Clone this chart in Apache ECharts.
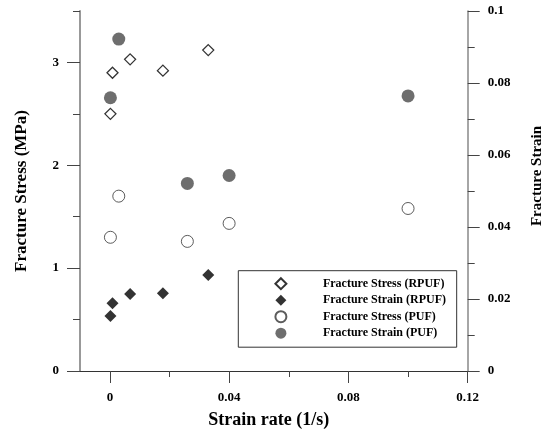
<!DOCTYPE html>
<html>
<head>
<meta charset="utf-8">
<style>
html,body{margin:0;padding:0;background:#fff;}
#chart{width:547px;height:432px;}
</style>
<script src="https://cdn.jsdelivr.net/npm/echarts@6/dist/echarts.min.js"></script>
</head>
<body>
<div id="chart"></div>
<script>
// ---- data ----
var seriesNames = ['Fracture Stress (RPUF)', 'Fracture Strain (RPUF)', 'Fracture Stress (PUF)', 'Fracture Strain (PUF)'];
var rpufRate   = [0.0002, 0.0009, 0.0068, 0.0178, 0.033];
var rpufStress = [2.50, 2.90, 3.03, 2.92, 3.12];
var rpufStrain = [0.0153, 0.0188, 0.0214, 0.0216, 0.0267];
var pufRate    = [0.0002, 0.003, 0.026, 0.04, 0.1];
var pufStress  = [1.30, 1.70, 1.26, 1.435, 1.58];
var pufStrain  = [0.0759, 0.0922, 0.0521, 0.0543, 0.0764];
var xTickLabels = ['0', '0.04', '0.08', '0.12'];
var yLeftTickLabels = ['0', '1', '2', '3'];
var yRightTickLabels = ['0', '0.02', '0.04', '0.06', '0.08', '0.1'];

function pairs(xs, ys) { return xs.map(function (x, i) { return [x, ys[i]]; }); }

var FONT = 'Liberation Serif';
var labelStyle = { fontFamily: FONT, fontWeight: 'bold', fontSize: 13, color: '#000' };
var DIAMOND = 'path://M5.5,0L11,5.5L5.5,11L0,5.5Z';

var chart = echarts.init(document.getElementById('chart'), null, { renderer: 'canvas' });
var option = {
  animation: false,
  backgroundColor: '#fff',
  grid: [
    { left: 80, right: 79.3, top: 11, bottom: 61, outerBoundsMode: 'none', containLabel: false },
    { left: 110, right: 79.3, top: 62.3, bottom: 61, outerBoundsMode: 'none', containLabel: false }
  ],
  xAxis: [
    {
      gridIndex: 0, type: 'value', min: -0.01, max: 0.12,
      axisLine: { show: true, onZero: false, lineStyle: { color: '#333', width: 1 } },
      axisTick: { show: false }, axisLabel: { show: false }, splitLine: { show: false },
      name: 'Strain rate (1/s)', nameLocation: 'middle', nameGap: 40,
      nameTextStyle: { fontFamily: FONT, fontWeight: 'bold', fontSize: 18, color: '#000', padding: [0, 10, 0, 0] }
    },
    {
      gridIndex: 1, type: 'value', min: 0, max: 0.12, interval: 0.04,
      axisLine: { show: false, onZero: false },
      axisTick: { show: true, inside: false, length: 12, lineStyle: { color: '#444', width: 1 } },
      minorTick: { show: true, splitNumber: 2, length: 6, lineStyle: { color: '#444', width: 1 } },
      axisLabel: { margin: 20, formatter: function (v, i) { return xTickLabels[i]; }, textStyle: labelStyle },
      splitLine: { show: false }
    }
  ],
  yAxis: [
    {
      gridIndex: 0, type: 'value', min: 0, max: 3.5, interval: 0.5, position: 'left',
      axisLine: { show: true, onZero: false, lineStyle: { color: '#999', width: 2 } },
      axisTick: { show: true, length: 7, lineStyle: { color: '#444', width: 1 } },
      axisLabel: { show: false }, splitLine: { show: false },
      name: 'Fracture Stress (MPa)', nameLocation: 'middle', nameGap: 50, nameRotate: 90,
      nameTextStyle: { fontFamily: FONT, fontWeight: 'bold', fontSize: 17, color: '#000' }
    },
    {
      gridIndex: 0, type: 'value', min: 0, max: 0.1, interval: 0.02, position: 'right',
      axisLine: { show: true, onZero: false, lineStyle: { color: '#888', width: 1.5 } },
      axisTick: { show: true, length: 12, lineStyle: { color: '#444', width: 1 } },
      minorTick: { show: true, splitNumber: 2, length: 7, lineStyle: { color: '#444', width: 1 } },
      axisLabel: { margin: 20, formatter: function (v, i) { return yRightTickLabels[i]; }, textStyle: labelStyle },
      splitLine: { show: false },
      name: 'Fracture Strain', nameLocation: 'middle', nameGap: 62, nameRotate: 90,
      nameTextStyle: { fontFamily: FONT, fontWeight: 'bold', fontSize: 15, color: '#000', padding: [0, 0, 0, 30] }
    },
    {
      gridIndex: 1, type: 'value', min: 0, max: 3, interval: 1, position: 'left', offset: 30,
      axisLine: { show: false, onZero: false },
      axisTick: { show: true, length: 13, lineStyle: { color: '#444', width: 1 } },
      axisLabel: { margin: 21, formatter: function (v, i) { return yLeftTickLabels[i]; }, textStyle: labelStyle },
      splitLine: { show: false }
    }
  ],
  legend: {
    show: true, orient: 'vertical', left: 238.3, top: 270.7,
    data: seriesNames,
    itemWidth: 74, itemHeight: 11, itemGap: 4,
    symbolKeepAspect: true,
    padding: [6.5, 10.7, 8, 36.1],
    borderColor: '#333', borderWidth: 1, backgroundColor: '#fff',
    textStyle: { fontFamily: FONT, fontWeight: 'bold', fontSize: 12, color: '#000' },
    selectedMode: false
  },
  series: [
    {
      name: seriesNames[0], type: 'scatter', xAxisIndex: 0, yAxisIndex: 0,
      symbol: DIAMOND, symbolSize: 11, symbolKeepAspect: true,
      itemStyle: { color: '#fff', borderColor: '#000', borderWidth: 1.3 },
      data: pairs(rpufRate, rpufStress)
    },
    {
      name: seriesNames[1], type: 'scatter', xAxisIndex: 0, yAxisIndex: 1,
      symbol: DIAMOND, symbolSize: 12, symbolKeepAspect: true,
      itemStyle: { color: '#000', borderColor: '#000', borderWidth: 0 },
      data: pairs(rpufRate, rpufStrain)
    },
    {
      name: seriesNames[2], type: 'scatter', xAxisIndex: 0, yAxisIndex: 0,
      symbol: 'circle', symbolSize: 12, symbolKeepAspect: true,
      itemStyle: { color: '#fff', borderColor: '#333', borderWidth: 1 },
      data: pairs(pufRate, pufStress)
    },
    {
      name: seriesNames[3], type: 'scatter', xAxisIndex: 0, yAxisIndex: 1,
      symbol: 'circle', symbolSize: 13, symbolKeepAspect: true,
      itemStyle: { color: '#4a4a4a', borderColor: '#4a4a4a', borderWidth: 0 },
      data: pairs(pufRate, pufStrain)
    }
  ]
};
chart.setOption(option);
</script>
</body>
</html>
